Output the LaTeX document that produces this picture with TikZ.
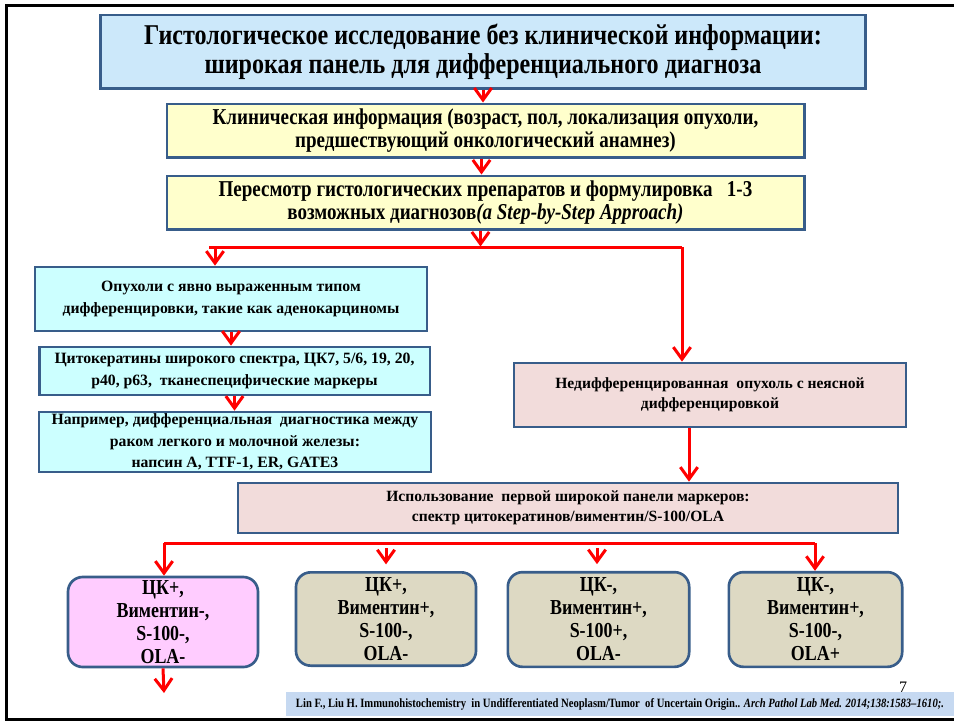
\documentclass[tikz,border=0pt]{standalone}
\usepackage{fontspec}
\setmainfont{Liberation Serif}
\newfontfamily\narrowserif[FakeStretch=0.84]{Liberation Serif}
\usetikzlibrary{arrows.meta}
\usetikzlibrary{calc}
\usetikzlibrary{positioning}

\definecolor{boxline}{RGB}{56,93,138}
\definecolor{titlefill}{RGB}{204,232,250}
\definecolor{yellowfill}{RGB}{255,255,204}
\definecolor{cyanfill}{RGB}{204,255,255}
\definecolor{pinkfill}{RGB}{242,220,219}
\definecolor{violetfill}{RGB}{255,204,255}
\definecolor{tanfill}{RGB}{221,217,195}
\definecolor{citefill}{RGB}{198,217,241}

\begin{document}
\begin{tikzpicture}[x=0.75pt,y=-0.75pt,
    font=\bfseries,
    box/.style={shape=rectangle, draw=boxline, line width=2pt,
      align=center, inner sep=0pt},
    titlebox/.style={box, fill=titlefill,
      font=\narrowserif\bfseries\fontsize{21.5}{21.5}\selectfont},
    yellowbox/.style={box, fill=yellowfill,
      font=\narrowserif\bfseries\fontsize{17}{17.5}\selectfont},
    leftbox/.style={box, fill=cyanfill,
      font=\bfseries\fontsize{11.8}{16}\selectfont},
    pinkbox/.style={box, fill=pinkfill,
      font=\bfseries\fontsize{11.7}{15}\selectfont},
    resultbox/.style={box, rounded corners=11pt,
      font=\narrowserif\bfseries\fontsize{16}{17.3}\selectfont},
    redline/.style={draw=red, line width=2.25pt},
    redarrow/.style={redline, -{Straight Barb[length=9pt,width=13pt]}}]

    \useasboundingbox (0,0) rectangle (954,722);

    % slide frame
    \draw[line width=2.25pt] (954,5) -- (6,5) -- (6,719) -- (954,719);

    \node[name=title, titlebox, minimum width=574pt, minimum height=55pt]
      at (483,51.5)
      {Гистологическое исследование без клинической информации:\\
       широкая панель для дифференциального диагноза};

    \node[name=clinic, yellowbox, minimum width=478pt, minimum height=40pt]
      at (485.5,130.5)
      {Клиническая информация (возраст, пол, локализация опухоли,\\
       предшествующий онкологический анамнез)};

    \node[name=review, yellowbox, minimum width=478pt, minimum height=40pt,
      below=12pt of clinic]
      {Пересмотр гистологических препаратов и формулировка\ \ \ 1-3\\
       возможных диагнозов\textit{(a Step-by-Step Approach)}};

    % left branch
    \node[name=clear, leftbox, minimum width=294pt, minimum height=48pt]
      at (231,299)
      {Опухоли с явно выраженным типом\\
       дифференцировки, такие как аденокарциномы};

    \node[name=keratin, leftbox, minimum width=293pt, minimum height=36pt]
      at (234.5,371)
      {Цитокератины широкого спектра, ЦК7, 5/6, 19, 20,\\
       р40, р63,\ \ тканеспецифические маркеры};

    \node[name=example, leftbox, minimum width=294pt, minimum height=45pt]
      at (235,442)
      {Например, дифференциальная\ \ диагностика между\\
       раком легкого и молочной железы:\\
       напсин А, TTF-1, ER, GATE3};

    % right branch
    \node[name=undiff, pinkbox, minimum width=294pt, minimum height=48pt]
      at (710,395)
      {Недифференцированная\ \ опухоль с неясной\\
       дифференцировкой};

    \node[name=panel, pinkbox, minimum width=495pt, minimum height=37.5pt]
      at (568,508)
      {Использование\ \ первой широкой панели маркеров:\\
       спектр цитокератинов/виментин/S-100/OLA};

    % marker profiles
    \node[name=prof1, resultbox, fill=violetfill,
      minimum width=142.5pt, minimum height=67.5pt]
      at (163,622) {ЦК+,\\ Виментин-,\\ S-100-,\\ OLA-};
    \node[name=prof2, resultbox, fill=tanfill,
      minimum width=135pt, minimum height=70pt]
      at (386,619) {ЦК+,\\ Виментин+,\\ S-100-,\\ OLA-};
    \node[name=prof3, resultbox, fill=tanfill,
      minimum width=136pt, minimum height=71pt]
      at (598.5,619.5) {ЦК-,\\ Виментин+,\\ S-100+,\\ OLA-};
    \node[name=prof4, resultbox, fill=tanfill,
      minimum width=130pt, minimum height=71pt]
      at (815.5,619.5) {ЦК-,\\ Виментин+,\\ S-100-,\\ OLA+};

    \node[name=pagenum, font=\mdseries\fontsize{12}{12}\selectfont]
      at (903,687) {7};

    \node[name=cite, shape=rectangle, fill=citefill, inner sep=0pt,
      minimum width=501pt, minimum height=18pt,
      font=\narrowserif\bfseries\fontsize{9.5}{10}\selectfont]
      at (620,704)
      {Lin F., Liu H. Immunohistochemistry\ \ in Undifferentiated
       Neoplasm/Tumor\ \ of Uncertain Origin..
       \textit{Arch Pathol Lab Med. 2014;138:1583–1610;.}};

    % split points
    \coordinate (splitL) at (215,247);
    \coordinate (splitR) at (682,247);
    \coordinate (down) at ($(undiff.south)+(-21,0)$);
    \coordinate (fanL) at (164,543);
    \coordinate (fanR) at (815,543);
    \coordinate (tick2) at (386,548);
    \coordinate (tick3) at (597,548);
    \coordinate (onward) at (164,693);

    \path (title.south) edge[redarrow] (title.south |- clinic.north);
    \path ($(clinic.south)+(-4,0)$) edge[redarrow] ($(review.north)+(-4,0)$);
    \path ($(review.south)+(-5,0)$) edge[redarrow] ($(review.south)+(-5,16)$);
    \draw[redline] ($(splitL)+(-6,0)$) -- (splitR);
    \path (splitL) edge[redarrow] (splitL |- clear.north);
    \path (splitR) edge[redarrow] (splitR |- undiff.north);
    \path (clear.south) edge[redarrow] (clear.south |- keratin.north);
    \path (keratin.south) edge[redarrow] (keratin.south |- example.north);
    \path (down) edge[redarrow] (down |- panel.north);
    \draw[redline] (fanL) -- (fanR);
    \path (fanL) edge[redarrow] (fanL |- prof1.north);
    \path (fanR) edge[redarrow] (fanR |- prof4.north);
    \path (tick2) edge[redarrow, shorten >=5pt] (tick2 |- prof2.north);
    \path (tick3) edge[redarrow, shorten >=5pt] (tick3 |- prof3.north);
    \path (prof1.south) edge[redarrow] (onward);

  \end{tikzpicture}
\end{document}
